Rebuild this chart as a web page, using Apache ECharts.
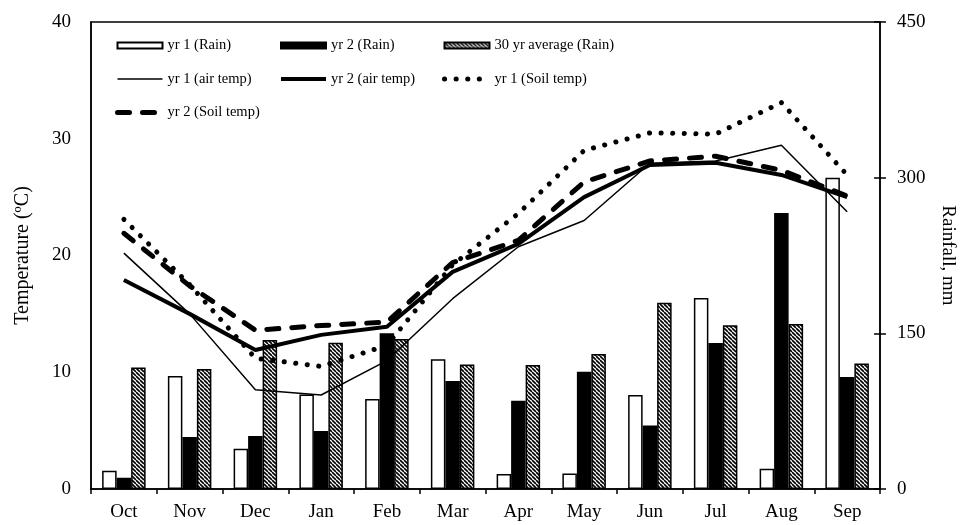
<!DOCTYPE html>
<html>
<head>
<meta charset="utf-8">
<script src="https://cdn.jsdelivr.net/npm/echarts@6/dist/echarts.min.js"></script>
<style>
html,body{margin:0;padding:0;background:#fff;}
#chart{width:965px;height:525px;}
</style>
</head>
<body>
<div id="chart"></div>
<script>
// ---- data ----
var months = ['Oct','Nov','Dec','Jan','Feb','Mar','Apr','May','Jun','Jul','Aug','Sep'];
var rainYr1 = [17.6, 109, 38.8, 91, 86.7, 125, 14.5, 15, 90.5, 184, 19.6, 300];
var rainYr2 = [10.9, 50, 51, 56, 150, 104, 85, 113, 61.3, 140.7, 266, 108];
var rain30 = [117, 115.6, 143.5, 141, 144.5, 120, 119.5, 130, 179.5, 157.7, 159, 121];
var airYr1 = [20.2, 15.0, 8.5, 8.05, 11.0, 16.3, 20.75, 23.0, 27.9, 28.1, 29.45, 23.75];
var airYr2 = [17.9, 15.0, 11.9, 13.2, 13.9, 18.6, 21.0, 25.0, 27.75, 27.95, 26.9, 25.0];
var soilYr1 = [23.1, 17.5, 11.2, 10.5, 12.3, 19.2, 23.6, 29.0, 30.5, 30.4, 33.1, 26.9];
var soilYr2 = [21.9, 17.4, 13.6, 14.0, 14.3, 19.4, 21.3, 26.3, 28.1, 28.5, 27.3, 25.1];
var tempTicks = [0, 40, 10];
var rainTicks = [0, 450, 150];

// hatch pattern
var s = 4;
var cv = document.createElement('canvas');
cv.width = s; cv.height = s;
var cx = cv.getContext('2d');
cx.fillStyle = '#fff'; cx.fillRect(0, 0, s, s);
cx.strokeStyle = '#000'; cx.lineWidth = 1.6;
for (var o = -s; o <= s; o += s) {
  cx.beginPath(); cx.moveTo(o, 0); cx.lineTo(o + s, s); cx.stroke();
}
var hatch = {image: cv, repeat: 'repeat'};

var FONT = 'Liberation Serif';
var chart = echarts.init(document.getElementById('chart'), null, {renderer: 'canvas'});
var noSym = {color: 'rgba(0,0,0,0)', borderWidth: 0, opacity: 0};

function legendCol(left, items) {
  return {
    orient: 'vertical', left: left, top: 38, padding: 0,
    itemWidth: 45, itemHeight: 6, itemGap: 18.5,
    textStyle: {fontFamily: FONT, fontSize: 14.5, color: '#000'},
    selectedMode: false,
    data: items
  };
}

var option = {
  animation: false,
  backgroundColor: '#fff',
  grid: {left: 91, right: 80, top: 22, bottom: 36, show: true, borderColor: '#000', borderWidth: 1.5, backgroundColor: 'transparent'},
  legend: [
    legendCol(115, [
      {name: 'yr 1 (Rain)', icon: 'rect'},
      {name: 'yr 1 (air temp)', lineStyle: {width: 1.5}, itemStyle: noSym},
      {name: 'yr 2 (Soil temp)', lineStyle: {width: 5, type: [12, 13], cap: 'round'}, itemStyle: noSym}
    ]),
    legendCol(279, [
      {name: 'yr 2 (Rain)', icon: 'rect'},
      {name: 'yr 2 (air temp)', lineStyle: {width: 4}, itemStyle: noSym}
    ]),
    legendCol(442, [
      {name: '30 yr average (Rain)', icon: 'rect'},
      {name: 'yr 1 (Soil temp)', lineStyle: {width: 5, type: [0.1, 11.5], cap: 'round'}, itemStyle: noSym}
    ])
  ],
  xAxis: {
    type: 'category', data: months, boundaryGap: true,
    axisLine: {lineStyle: {color: '#000', width: 1.5}},
    axisTick: {show: true, length: 5, inside: false, lineStyle: {color: '#000', width: 1.5}},
    axisLabel: {color: '#000', fontFamily: FONT, fontSize: 19, margin: 14},
    splitLine: {show: false}
  },
  yAxis: [
    {
      type: 'value', position: 'left', min: tempTicks[0], max: tempTicks[1], interval: tempTicks[2],
      name: 'Temperature (ºC)', nameLocation: 'middle', nameGap: 58, nameRotate: 90,
      nameTextStyle: {color: '#000', fontFamily: FONT, fontSize: 20},
      axisLine: {show: true, lineStyle: {color: '#000', width: 1.5}},
      axisTick: {show: false},
      axisLabel: {color: '#000', fontFamily: FONT, fontSize: 19, margin: 20},
      splitLine: {show: false}
    },
    {
      type: 'value', position: 'right', min: rainTicks[0], max: rainTicks[1], interval: rainTicks[2],
      name: 'Rainfall, mm', nameLocation: 'middle', nameGap: 58, nameRotate: -90,
      nameTextStyle: {color: '#000', fontFamily: FONT, fontSize: 19},
      axisLine: {show: true, lineStyle: {color: '#000', width: 1.5}},
      axisTick: {show: true, length: 6, inside: false, lineStyle: {color: '#000', width: 1.5}},
      axisLabel: {color: '#000', fontFamily: FONT, fontSize: 19, margin: 17},
      splitLine: {show: false}
    },
    {
      type: 'value', position: 'right', min: rainTicks[0], max: rainTicks[1], interval: rainTicks[2],
      axisLine: {show: false},
      axisTick: {show: true, length: 6, inside: true, lineStyle: {color: '#000', width: 1.5}},
      axisLabel: {show: false},
      splitLine: {show: false}
    }
  ],
  series: [
    {name: 'yr 1 (Rain)', type: 'bar', yAxisIndex: 1, data: rainYr1, barWidth: 14.5, barGap: '0%',
     itemStyle: {color: '#fff', borderColor: '#000', borderWidth: 1.5}},
    {name: 'yr 2 (Rain)', type: 'bar', yAxisIndex: 1, data: rainYr2, barWidth: 14.5, barGap: '0%',
     itemStyle: {color: '#000', borderColor: '#000', borderWidth: 1.5}},
    {name: '30 yr average (Rain)', type: 'bar', yAxisIndex: 1, data: rain30, barWidth: 14.5, barGap: '0%',
     itemStyle: {color: hatch, borderColor: '#000', borderWidth: 1.5}},
    {name: 'yr 1 (air temp)', type: 'line', yAxisIndex: 0, data: airYr1, symbol: 'none',
     lineStyle: {color: '#000', width: 1.5}, itemStyle: {color: '#000'}},
    {name: 'yr 2 (air temp)', type: 'line', yAxisIndex: 0, data: airYr2, symbol: 'none',
     lineStyle: {color: '#000', width: 4}, itemStyle: {color: '#000'}},
    {name: 'yr 1 (Soil temp)', type: 'line', yAxisIndex: 0, data: soilYr1, symbol: 'none',
     lineStyle: {color: '#000', width: 5, type: [0.1, 11.5], cap: 'round'}, itemStyle: {color: '#000'}},
    {name: 'yr 2 (Soil temp)', type: 'line', yAxisIndex: 0, data: soilYr2, symbol: 'none',
     lineStyle: {color: '#000', width: 5, type: [12, 13], cap: 'round'}, itemStyle: {color: '#000'}}
  ]
};
chart.setOption(option);
</script>
</body>
</html>
